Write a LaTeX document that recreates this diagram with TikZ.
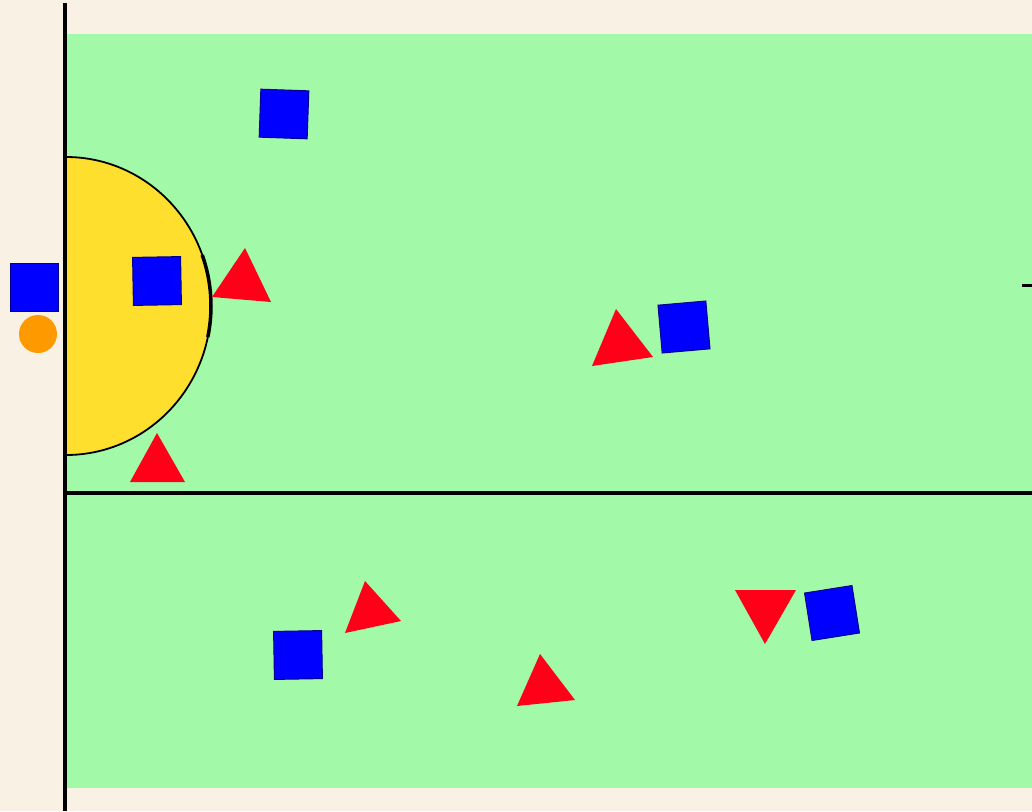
\documentclass[tikz,border=0pt]{standalone}
\begin{document}
\begin{tikzpicture}[x=1pt,y=-1pt,
  player/.style={fill=blue!100, draw=blue!55!black, line width=1pt},
  opp/.style={fill=oppred, draw=none},
  line/.style={line width=3.5pt, black}]
\definecolor{cream}{HTML}{F9F1E3}
\definecolor{field}{HTML}{A2F9A8}
\definecolor{oppred}{HTML}{FF0018}
\definecolor{goalyel}{HTML}{FFDF2E}
\definecolor{ball}{HTML}{FF9900}
\useasboundingbox (0,0) rectangle (1032,811);
\fill[cream] (0,0) rectangle (1032,811);
\fill[field] (66,34) rectangle (1032,788);
% goal area
\fill[goalyel,draw=black,line width=1.8pt] (66,157) arc[start angle=-90,end angle=90,x radius=145,y radius=149] -- cycle;
\draw[black,line width=3.5pt] (66,306) ++(-20:145 and 149) arc[start angle=-20,end angle=12,x radius=145,y radius=149];
% lines
\draw[line] (65,3) -- (65,811);
\draw[line] (66,493) -- (1032,493);
\draw[line width=3pt] (1022,285) -- (1032,285);
% blue players
\foreach \x/\y/\r in {284/114/-2, 157/281/1, 34/287/0, 684/327/5, 298/655/1, 832/613/9}{
  \draw[player, rotate around={\r:(\x,\y)}] (\x-24,\y-24) rectangle (\x+24,\y+24);
}
% red players
\fill[opp] (245,248) -- (212,297) -- (271,302) -- cycle;
\fill[opp] (157,433) -- (130,482) -- (185,482) -- cycle;
\fill[opp] (616,309) -- (592,366) -- (653,357) -- cycle;
\fill[opp] (365,581) -- (345,633) -- (401,621) -- cycle;
\fill[opp] (540,654) -- (517,706) -- (575,700) -- cycle;
\fill[opp] (735,590) -- (796,590) -- (765,644) -- cycle;
% ball
\fill[ball] (38,334) circle[radius=19];
\end{tikzpicture}
\end{document}
